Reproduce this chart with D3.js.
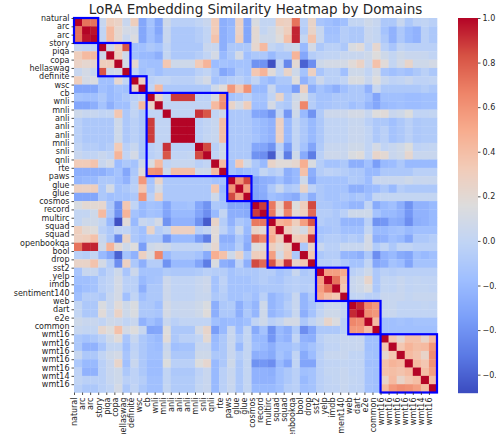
<!DOCTYPE html>
<html>
<head>
<meta charset="utf-8">
<script src="https://cdn.jsdelivr.net/npm/d3@7"></script>
<style>
    html, body { margin: 0; padding: 0; background: #fff; overflow: hidden; }
    svg { display: block; }
    text { font-family: "DejaVu Sans", sans-serif; fill: #262626; }
</style>
</head>
<body>
<script>
var domains = ['natural', 'arc', 'arc', 'story', 'piqa', 'copa', 'hellaswag', 'definite', 'wsc', 'cb',
    'wnli', 'mnli', 'anli', 'anli', 'anli', 'mnli', 'snli', 'qnli', 'rte', 'paws', 'glue', 'glue',
    'cosmos', 'record', 'multirc', 'squad', 'squad', 'openbookqa', 'bool', 'drop', 'sst2', 'yelp',
    'imdb', 'sentiment140', 'web', 'dart', 'e2e', 'common', 'wmt16', 'wmt16', 'wmt16', 'wmt16',
    'wmt16', 'wmt14', 'wmt16'];

// sizes of the blue boxes along the diagonal
var groupSizes = [3, 4, 2, 10, 3, 2, 6, 4, 4, 7];

var colorbarTicks = [1.0, 0.8, 0.6, 0.4, 0.2, 0.0, -0.2, -0.4, -0.6];
var colorRange = [-0.68, 1];

// coolwarm, sampled every 0.1
var coolwarm = ['#3b4cc0', '#5b7ae5', '#7b9ff9', '#9ebeff', '#c0d4f5', '#dddcdc',
    '#f2cbb7', '#f7ac8e', '#ee8468', '#d65244', '#b40426'];

// upper triangle of the similarity matrix, each row starts on the diagonal
var sim = [
    [1,.72,.72,.03,.3,.26,.04,.3,-.3,-.14,-.3,.07,-.04,-.04,-.04,0,.04,.32,-.26,-.22,.28,-.3,.13,.01,.01,.3,.28,.72,-.04,.25,-.12,-.16,-.2,-.16,.01,.01,.07,.03,-.1,-.1,.03,-.1,-.02,0,-.04],
    [1,.97,0,.42,.22,.1,.1,-.3,-.16,-.3,.03,-.1,-.1,-.1,-.06,0,.32,-.26,-.2,.27,-.3,.2,.01,.07,.2,.3,.93,-.06,.25,.03,-.16,-.16,-.06,-.1,-.1,.04,.01,-.14,-.24,-.1,-.2,-.24,-.04,-.1],
    [1,0,.42,.22,.04,.14,-.3,-.16,-.26,.03,-.1,-.1,-.1,-.06,0,.37,-.26,-.2,.3,-.3,.2,.07,.07,.17,.38,.93,.01,.37,.03,-.14,-.14,-.06,-.1,-.1,.04,.01,-.1,-.24,-.1,-.2,-.24,-.04,-.1],
    [1,.07,.3,.82,-.16,-.16,-.1,-.14,0,-.1,-.1,-.1,-.1,.04,.04,-.26,-.1,-.1,-.1,.22,.42,.01,-.04,.04,.07,-.2,.1,-.1,-.04,-.04,-.1,.13,.18,0,.22,-.04,-.12,0,-.04,-.04,-.04,-.04],
    [1,.3,.07,-.16,-.2,-.2,-.26,.01,-.1,-.1,-.1,-.06,0,.1,-.2,-.1,.1,-.16,-.1,-.1,-.2,-.1,-.1,.45,-.3,-.06,-.02,0,0,.03,.03,.04,.07,.16,.07,.01,.07,.04,.04,.03,0],
    [1,.1,.22,-.14,-.16,-.16,.35,.07,.07,.07,.33,.45,-.18,-.14,-.16,-.14,-.14,-.4,-.4,-.66,0,-.45,.2,-.6,-.42,.07,.1,.1,.1,.18,.26,.06,.38,.18,.01,.1,.24,.07,.07,.1],
    [1,0,-.16,-.1,-.16,-.1,-.1,-.1,-.1,-.04,0,-.1,-.3,-.24,-.1,-.14,.35,.45,.18,0,.25,.07,-.14,.28,-.12,-.04,-.04,-.16,.07,.07,0,.1,-.12,-.16,-.12,-.16,-.1,-.04,-.1],
    [1,.28,-.04,0,0,-.04,-.04,-.04,.03,.1,-.14,-.1,-.06,-.04,-.1,0,-.14,-.2,-.1,-.1,.16,-.24,-.1,.06,-.04,-.04,0,.13,.13,.04,.16,.03,-.02,0,.04,-.02,-.02,0],
    [1,0,.42,-.1,-.1,-.1,-.1,-.1,-.1,.07,.18,.58,.35,.6,-.2,-.2,.04,-.16,-.16,-.35,.28,-.26,-.14,-.2,-.26,-.16,-.1,-.1,-.24,.03,-.1,-.1,-.1,-.1,-.1,-.06,-.1],
    [1,.25,0,.88,.88,.88,-.04,-.04,.13,.6,-.14,-.1,-.04,-.14,-.14,0,.25,-.1,.07,.13,-.06,-.14,-.14,-.1,-.1,-.1,-.1,-.16,-.31,-.16,-.16,-.16,-.18,-.18,-.16,-.16],
    [1,0,0,0,0,0,0,.42,.62,.25,.1,.3,-.16,-.16,.1,-.06,-.1,.1,.65,-.06,-.14,-.12,-.1,-.1,-.16,-.12,-.22,-.3,-.2,-.18,-.16,-.18,-.18,-.16,-.16],
    [1,0,0,0,.9,.82,0,.07,-.1,-.1,-.1,-.3,-.31,-.4,0,-.38,.07,-.2,-.4,-.08,.06,.06,.06,.1,.1,.03,.16,.18,.04,.07,.15,0,0,.01],
    [1,1,1,-.04,0,.03,.4,-.1,-.1,-.1,-.16,-.2,-.24,.28,-.2,0,-.1,-.2,-.1,0,0,0,.03,.03,-.04,-.1,-.1,-.16,-.1,-.04,-.1,-.08,-.08],
    [1,1,-.04,0,.03,.4,-.1,-.1,-.1,-.16,-.2,-.24,.28,-.2,0,-.1,-.2,-.1,0,0,0,.04,.04,0,-.1,-.04,-.14,-.1,-.04,-.1,-.08,-.08],
    [1,-.04,.01,.03,.4,-.1,-.1,-.1,-.14,-.2,-.24,.28,-.2,0,-.1,-.2,-.1,0,0,0,.04,.04,0,-.1,-.04,-.14,-.1,-.04,-.1,-.08,-.08],
    [1,.85,-.04,.07,-.1,-.1,-.1,-.3,-.31,-.4,-.04,-.35,0,-.14,-.31,-.08,.03,.03,.03,.07,.07,0,.1,0,.03,.07,.15,-.02,0,.01],
    [1,0,.07,-.1,-.1,-.1,-.4,-.42,-.62,.01,-.5,.07,-.28,-.5,-.04,.06,.06,.04,.13,.17,0,.24,.2,.04,.07,.22,.04,.04,.04],
    [1,.42,-.14,.35,.07,-.1,-.2,.25,.18,.18,.22,.48,.13,-.06,-.14,-.14,-.1,-.26,-.26,-.16,-.35,-.2,-.18,-.1,-.2,-.2,-.2,-.2],
    [1,-.14,-.2,-.16,-.14,.01,-.06,-.02,-.26,-.2,.38,-.26,-.06,-.02,-.04,-.06,-.1,-.1,-.2,-.2,-.1,-.1,-.1,-.1,-.04,-.04,-.04],
    [1,.6,.85,-.31,-.26,-.24,-.16,-.26,-.2,.07,-.3,-.14,-.14,-.14,-.14,-.08,-.1,-.18,.04,.04,.04,.04,.07,.03,.04,.03],
    [1,.55,-.3,-.26,-.1,.04,-.1,-.06,.25,-.02,-.1,-.14,-.14,-.14,-.26,-.26,-.2,-.18,-.1,-.2,-.06,-.1,-.1,-.1,-.1],
    [1,-.31,-.28,-.16,-.2,-.24,-.28,-.1,-.26,-.1,-.14,-.14,-.1,-.14,-.1,-.16,.01,.01,.01,.01,.01,.01,.01,.01],
    [1,.88,.7,.25,.75,.16,.3,.85,-.1,-.1,-.14,-.16,-.22,-.22,0,-.28,-.2,-.16,-.26,-.4,-.24,-.24,-.2],
    [1,.7,.2,.65,.2,.3,.75,-.06,-.06,-.1,-.04,.07,.07,.07,-.14,-.2,-.2,-.24,-.38,-.24,-.24,-.2],
    [1,.45,.5,.3,.55,.82,-.06,-.1,-.1,-.22,-.22,-.22,-.04,-.4,-.38,-.26,-.28,-.42,-.26,-.24,-.2],
    [1,.3,.2,.1,.4,-.14,-.12,-.1,-.16,-.16,-.16,.01,-.2,-.2,-.16,-.14,-.2,-.16,-.16,-.16],
    [1,.3,.35,.9,-.1,-.06,-.06,-.1,-.06,-.1,.1,-.26,-.24,-.16,-.2,-.3,-.1,-.1,-.06],
    [1,-.1,.25,.04,-.04,-.04,.03,.03,.03,.1,-.08,0,-.1,0,0,-.04,-.04,-.04],
    [1,.35,-.1,-.06,-.06,-.22,-.22,-.26,-.1,-.42,-.24,-.2,-.28,-.31,-.16,-.2,-.16],
    [1,-.06,-.06,-.04,-.1,-.14,-.14,0,-.3,-.26,-.14,-.18,-.31,-.14,-.14,-.14],
    [1,.55,.55,.5,-.04,0,.07,-.1,-.04,-.06,-.04,-.04,-.04,-.04,-.04],
    [1,.72,.4,.04,.07,.24,-.1,.01,0,.03,0,.01,0,0],
    [1,.35,.04,.07,.14,-.1,.01,0,.03,0,.01,.01,0],
    [1,0,.01,-.04,-.04,.04,.03,.04,.01,.03,.03,.03],
    [1,.92,.65,.58,.03,.03,0,0,0,.01,0],
    [1,.62,.58,.04,.04,0,0,0,0,0],
    [1,.42,-.16,-.16,-.14,-.16,-.14,-.14,-.14],
    [1,-.16,-.16,-.16,-.16,-.16,-.16,-.16],
    [1,.35,.22,.38,.38,.25,.42],
    [1,.35,.45,.4,.42,.58],
    [1,.42,.37,.25,.62],
    [1,.42,.35,.6],
    [1,.4,.55],
    [1,.4],
    [1]
];

var simAt = function(i, j) {
    var a = Math.min(i, j), b = Math.max(i, j);
    return sim[a][b - a];
};

var width = 496, height = 434;
var plot = {left: 74, right: 437, top: 18, bottom: 392.5};
var bar = {left: 458, right: 478};

var svg = d3.select('body')
    .append('svg')
    .attr('width', width)
    .attr('height', height);

var color = d3.scaleLinear()
    .domain(d3.range(coolwarm.length).map(function(d) {
        return colorRange[0] + (colorRange[1] - colorRange[0]) * d / (coolwarm.length - 1);
    }))
    .range(coolwarm)
    .clamp(true);

// linear scales on purpose, the labels sit on the cell edges and not the centers
var x = d3.scaleLinear().domain([0, domains.length]).range([plot.left, plot.right]);
var y = d3.scaleLinear().domain([0, domains.length]).range([plot.top, plot.bottom]);

var cells = [];
domains.forEach(function(_, i) {
    domains.forEach(function(_, j) {
        cells.push({row: i, col: j, value: simAt(i, j)});
    });
});

svg.append('g')
    .selectAll('rect')
    .data(cells)
    .enter()
    .append('rect')
    .attr('x', function(d) { return x(d.col); })
    .attr('y', function(d) { return y(d.row); })
    .attr('width', x(1) - x(0) + 0.3)
    .attr('height', y(1) - y(0) + 0.3)
    .attr('fill', function(d) { return color(d.value); });

// blue domain boxes
var start = 0;
var boxes = groupSizes.map(function(size) {
    var box = {start: start, size: size};
    start += size;
    return box;
});

svg.append('g')
    .selectAll('rect')
    .data(boxes)
    .enter()
    .append('rect')
    .attr('x', function(d) { return x(d.start); })
    .attr('y', function(d) { return y(d.start); })
    .attr('width', function(d) { return x(d.start + d.size) - x(d.start); })
    .attr('height', function(d) { return y(d.start + d.size) - y(d.start); })
    .attr('fill', 'none')
    .attr('stroke', '#0000ff')
    .attr('stroke-width', 2.2);

var yAxis = d3.axisLeft(y)
    .tickValues(d3.range(domains.length))
    .tickFormat(function(i) { return domains[i]; })
    .tickSize(2.5)
    .tickPadding(2);

var xAxis = d3.axisBottom(x)
    .tickValues(d3.range(domains.length))
    .tickFormat(function(i) { return domains[i]; })
    .tickSize(2.5);

var yG = svg.append('g')
    .attr('transform', 'translate(' + plot.left + ',0)')
    .call(yAxis);

var xG = svg.append('g')
    .attr('transform', 'translate(0,' + plot.bottom + ')')
    .call(xAxis);

xG.selectAll('text')
    .attr('transform', 'rotate(-90)')
    .attr('x', -5)
    .attr('y', 0)
    .attr('dy', '.35em')
    .style('text-anchor', 'end');

[xG, yG].forEach(function(g) {
    g.select('.domain').remove();
    g.selectAll('line').attr('stroke', '#262626').attr('stroke-width', 0.8);
    g.selectAll('text').attr('font-size', '8px').attr('font-family', '"DejaVu Sans"');
});

// colorbar
var barY = d3.scaleLinear().domain(colorRange).range([plot.bottom, plot.top]);

svg.append('g')
    .selectAll('rect')
    .data(d3.range(0, Math.ceil(plot.bottom - plot.top)))
    .enter()
    .append('rect')
    .attr('x', bar.left)
    .attr('y', function(d) { return plot.top + d; })
    .attr('width', bar.right - bar.left)
    .attr('height', 1.2)
    .attr('fill', function(d) { return color(barY.invert(plot.top + d + 0.5)); });

var barAxis = d3.axisRight(barY)
    .tickValues(colorbarTicks)
    .tickFormat(d3.format('.1f'))
    .tickSize(2.5)
    .tickPadding(2);

var barG = svg.append('g')
    .attr('transform', 'translate(' + bar.right + ',0)')
    .call(barAxis);

barG.select('.domain').remove();
barG.selectAll('line').attr('stroke', '#262626').attr('stroke-width', 0.8);
barG.selectAll('text').attr('font-size', '8px').attr('font-family', '"DejaVu Sans"');

svg.append('text')
    .attr('x', (plot.left + plot.right) / 2 + 0)
    .attr('y', 14)
    .attr('text-anchor', 'middle')
    .attr('font-size', '13.5px')
    .text('LoRA Embedding Similarity Heatmap by Domains');
</script>
</body>
</html>
